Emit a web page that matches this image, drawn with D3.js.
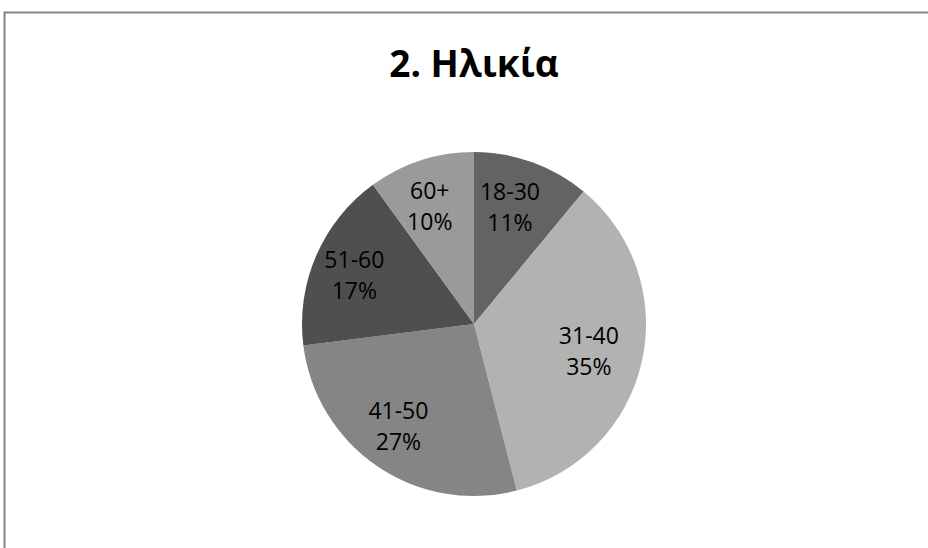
<!DOCTYPE html>
<html>
<head>
<meta charset="utf-8">
<script src="https://cdn.jsdelivr.net/npm/d3@7"></script>
<style>
  body { margin: 0; background: #fff; }
  text { font-family: "Open Sans", sans-serif; }
</style>
</head>
<body>
<div id="chart"></div>
<script>
var labels = ["18-30", "31-40", "41-50", "51-60", "60+"]
var values = [11, 35, 27, 17, 10]
var colors = ["#636363", "#b2b2b2", "#858585", "#4f4f4f", "#9a9a9a"]
var title = "2. Ηλικία"

var width = 928, height = 548,
    cx = 474, cy = 324, radius = 172;

var svg = d3.select("#chart")
  .append("svg")
  .attr("width", width)
  .attr("height", height);

svg.append("rect")
  .attr("x", 4.5).attr("y", 12.5)
  .attr("width", 940).attr("height", 560)
  .attr("fill", "white")
  .attr("stroke", "#868686")
  .attr("stroke-width", 2);

svg.append("text")
  .attr("x", cx).attr("y", 77)
  .attr("text-anchor", "middle")
  .attr("font-size", 37)
  .attr("font-weight", "bold")
  .attr("fill", "#000")
  .text(title);

var total = d3.sum(values);
var data = labels.map((l, i) => ({label: l, value: values[i], color: colors[i]}));

var pie = d3.pie().sort(null).value(d => d.value);
var arc = d3.arc().innerRadius(0).outerRadius(radius);
var labelArc = d3.arc().innerRadius(radius * 0.72).outerRadius(radius * 0.72);

var g = svg.append("g")
  .attr("transform", "translate(" + cx + "," + cy + ")");

var arcs = pie(data);

g.selectAll("path")
  .data(arcs)
  .enter()
  .append("path")
  .attr("d", arc)
  .attr("fill", d => d.data.color);

var lbl = g.selectAll("text.lbl")
  .data(arcs)
  .enter()
  .append("text")
  .attr("class", "lbl")
  .attr("transform", d => {
    var c = labelArc.centroid(d);
    // nudge labels slightly counter-clockwise like the original layout
    return "translate(" + (c[0] - 6) + "," + c[1] + ")";
  })
  .attr("text-anchor", "middle")
  .attr("font-size", 23)
  .attr("fill", "#000");

lbl.append("tspan")
  .attr("x", 0).attr("y", -7)
  .text(d => d.data.label);
lbl.append("tspan")
  .attr("x", 0).attr("y", 24)
  .text(d => Math.round(d.data.value / total * 100) + "%");
</script>
</body>
</html>
